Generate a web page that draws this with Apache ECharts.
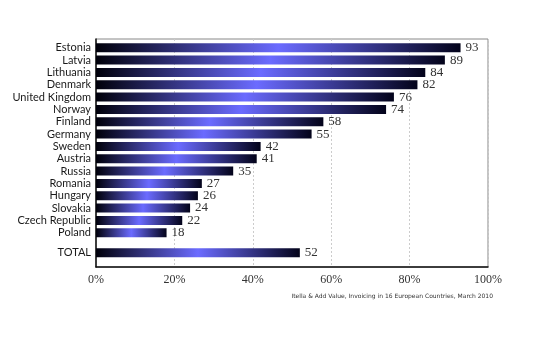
<!DOCTYPE html>
<html>
<head>
<meta charset="utf-8">
<script src="https://cdn.jsdelivr.net/npm/echarts@6/dist/echarts.min.js"></script>
<style>html,body{margin:0;padding:0;background:#fff}#c{width:539px;height:337px}</style>
</head>
<body>
<div id="c"></div>
<script>
const countries = ['Estonia','Latvia','Lithuania','Denmark','United Kingdom','Norway','Finland','Germany','Sweden','Austria','Russia','Romania','Hungary','Slovakia','Czech Republic','Poland'];
const countryValues = [93,89,84,82,76,74,58,55,42,41,35,27,26,24,22,18];
const totalLabel = ['TOTAL'];
const totalValues = [52];
const xTicks = [0,20,40,60,80,100];
const sourceText = 'Itella & Add Value, Invoicing in 16 European Countries, March 2010';

const chart = echarts.init(document.getElementById('c'), null, {renderer:'canvas'});
const barGrad = new echarts.graphic.LinearGradient(0,0,1,0,[
  {offset:0,color:'#00000a'},
  {offset:0.5,color:'#6b6bff'},
  {offset:1,color:'#03031a'}
]);
const L = 96, R = 51;
const catFont = {fontFamily:'Lato', fontSize:11, color:'#1a1a1a'};
const barLabel = {show:true, position:'right', distance:5, fontFamily:'Liberation Serif', fontSize:13, color:'#333'};

chart.setOption({
  animation:false,
  title:{text:sourceText, right:46, top:293, padding:0, textStyle:{fontSize:6, fontWeight:'normal', color:'#333', fontFamily:'DejaVu Sans'}},
  grid:[
    {left:L, right:R, top:39, bottom:70, show:true, borderColor:'#888', borderWidth:1},
    {left:L, right:R, top:41.6, height:197.3},
    {left:L, right:R, top:246.5, height:12.33}
  ],
  xAxis:[
    {gridIndex:0, type:'value', min:xTicks[0], max:xTicks[xTicks.length-1], interval:20,
     axisLine:{show:true, lineStyle:{color:'#111', width:1.5}}, axisTick:{show:false},
     axisLabel:{formatter:'{value}%', margin:7, fontFamily:'Liberation Serif', fontSize:12, color:'#333'},
     splitLine:{show:true, lineStyle:{type:[2,2], color:'#ccc'}}},
    {gridIndex:1, type:'value', min:0, max:100, show:false},
    {gridIndex:2, type:'value', min:0, max:100, show:false}
  ],
  yAxis:[
    {gridIndex:0, type:'value', min:0, max:1, axisLine:{show:true, lineStyle:{color:'#111', width:1.5}}, axisTick:{show:false}, axisLabel:{show:false}, splitLine:{show:false}},
    {gridIndex:1, type:'category', data:countries, inverse:true, axisLine:{show:false}, axisTick:{show:false}, axisLabel:Object.assign({margin:5, interval:0}, catFont)},
    {gridIndex:2, type:'category', data:totalLabel, inverse:true, axisLine:{show:false}, axisTick:{show:false}, axisLabel:Object.assign({margin:5, interval:0}, catFont)}
  ],
  series:[
    {type:'bar', xAxisIndex:1, yAxisIndex:1, data:countryValues, barWidth:9, itemStyle:{color:barGrad}, label:barLabel},
    {type:'bar', xAxisIndex:2, yAxisIndex:2, data:totalValues, barWidth:9, itemStyle:{color:barGrad}, label:barLabel}
  ]
});
</script>
</body>
</html>
